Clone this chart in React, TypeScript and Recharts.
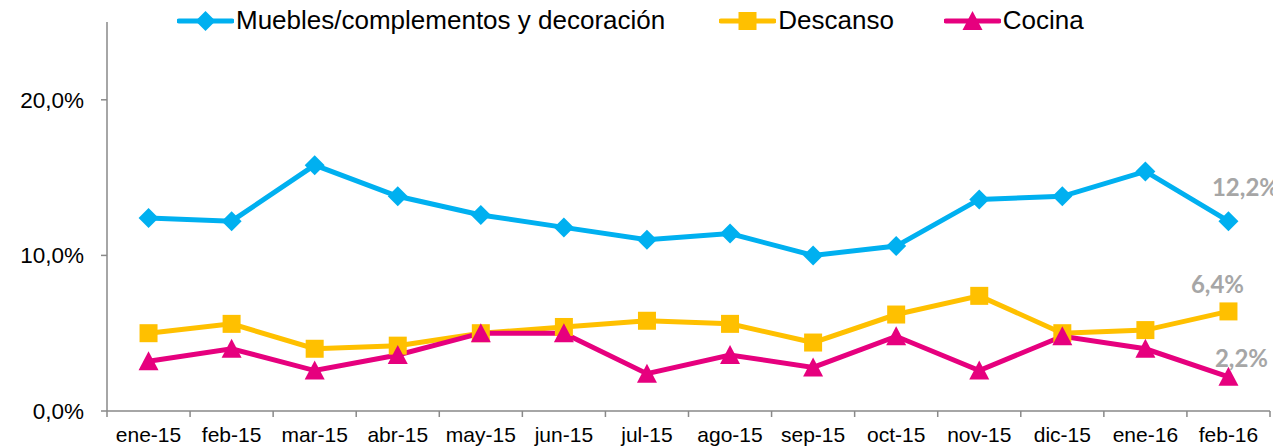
import React from 'react'
import { LineChart, Line, XAxis, YAxis, Legend, LabelList } from 'recharts'

const months = ['ene-15', 'feb-15', 'mar-15', 'abr-15', 'may-15', 'jun-15', 'jul-15', 'ago-15', 'sep-15', 'oct-15', 'nov-15', 'dic-15', 'ene-16', 'feb-16']
const muebles = [12.4, 12.2, 15.8, 13.8, 12.6, 11.8, 11.0, 11.4, 10.0, 10.6, 13.6, 13.8, 15.4, 12.2]
const descanso = [5.0, 5.6, 4.0, 4.2, 5.0, 5.4, 5.8, 5.6, 4.4, 6.2, 7.4, 5.0, 5.2, 6.4]
const cocina = [3.2, 4.0, 2.6, 3.6, 5.0, 5.0, 2.4, 3.6, 2.8, 4.8, 2.6, 4.8, 4.0, 2.2]
const yTicks = [0, 10, 20]

const data = months.map((month, i) => ({
  month,
  muebles: muebles[i],
  descanso: descanso[i],
  cocina: cocina[i],
}))

const series = [
  { key: 'muebles', name: 'Muebles/complementos y decoración', color: '#00B0F0', shape: 'diamond', dx: 17, dy: -35 },
  { key: 'descanso', name: 'Descanso', color: '#FFC000', shape: 'square', dx: -11, dy: -28 },
  { key: 'cocina', name: 'Cocina', color: '#E6007E', shape: 'triangle', dx: 13, dy: -19 },
]

const AXIS = '#898989'
const FONT = '"Liberation Sans", Arial, sans-serif'
const X_TICK = 6
const X_MARGIN = 10

const pct = (v: number) => v.toFixed(1).replace('.', ',') + '%'

const Marker = ({ cx, cy, shape, color }: any) => {
  if (cx == null || cy == null) return null
  if (shape === 'diamond') {
    return <polygon points={`${cx},${cy - 10} ${cx + 10},${cy} ${cx},${cy + 10} ${cx - 10},${cy}`} fill={color} />
  }
  if (shape === 'square') {
    return <rect x={cx - 9} y={cy - 9} width={18} height={18} fill={color} />
  }
  return <polygon points={`${cx},${cy - 10} ${cx + 10},${cy + 9} ${cx - 10},${cy + 9}`} fill={color} />
}

// category label plus tick marks on the category edges (Excel style)
const MonthTick = (props: any) => {
  const { x, y, payload, index } = props
  const half = payload.offset || 0
  const axisY = y - X_TICK - X_MARGIN
  return (
    <g>
      <line x1={x - half} x2={x - half} y1={axisY} y2={axisY + X_TICK} stroke={AXIS} strokeWidth={1.5} />
      {index === months.length - 1 && (
        <line x1={x + half} x2={x + half} y1={axisY} y2={axisY + X_TICK} stroke={AXIS} strokeWidth={1.5} />
      )}
      <text x={x} y={y} dy="0.71em" textAnchor="middle" fill="#000" fontSize={21} fontFamily={FONT}>
        {payload.value}
      </text>
    </g>
  )
}

const LegendContent = () => (
  <div style={{ display: 'flex', alignItems: 'center', fontFamily: FONT, fontSize: 26, color: '#000', whiteSpace: 'nowrap' }}>
    {series.map((s, i) => (
      <div key={s.key} style={{ display: 'flex', alignItems: 'center', marginLeft: i === 0 ? 0 : i === 1 ? 54 : 50 }}>
        <svg width={57} height={22} style={{ marginRight: 2 }}>
          <line x1={2} y1={11} x2={55} y2={11} stroke={s.color} strokeWidth={5} strokeLinecap="round" />
          <Marker cx={28.5} cy={11} shape={s.shape} color={s.color} />
        </svg>
        <span>{s.name}</span>
      </div>
    ))}
  </div>
)

const lastLabel = (dx: number, dy: number) => (props: any) => {
  const { x, y, index, value } = props
  if (index !== months.length - 1) return null
  return (
    <text x={x + dx} y={y + dy} textAnchor="middle" dominantBaseline="central" fill="#A6A6A6" fontFamily="Lato, sans-serif" fontWeight="bold" fontSize={24}>
      {pct(value)}
    </text>
  )
}

export default function App() {
  return (
    <LineChart width={1273} height={439} data={data} margin={{ top: 14, right: 11, bottom: 6, left: 9 }}>
      <XAxis
        dataKey="month"
        scale="band"
        height={30}
        axisLine={{ stroke: AXIS, strokeWidth: 1.5 }}
        tickLine={false}
        tickSize={X_TICK}
        tickMargin={X_MARGIN}
        interval={0}
        tick={<MonthTick />}
      />
      <YAxis
        domain={[0, 25]}
        ticks={yTicks}
        width={90}
        axisLine={{ stroke: AXIS, strokeWidth: 1.5 }}
        tickLine={{ stroke: AXIS, strokeWidth: 1.5 }}
        tickSize={6}
        tickMargin={17}
        tickFormatter={pct}
        tick={{ fill: '#000', fontSize: 22.5, fontFamily: FONT }}
      />
      <Legend
        layout="horizontal"
        verticalAlign="middle"
        align="center"
        content={<LegendContent />}
        wrapperStyle={{ top: -3, left: 169, width: 'auto' }}
      />
      {series.map((s) => (
        <Line
          key={s.key}
          dataKey={s.key}
          name={s.name}
          stroke={s.color}
          strokeWidth={5}
          isAnimationActive={false}
          dot={(p: any) => <Marker key={`${s.key}-${p.index}`} cx={p.cx} cy={p.cy} shape={s.shape} color={s.color} />}
          activeDot={false}
        >
          <LabelList dataKey={s.key} content={lastLabel(s.dx, s.dy)} />
        </Line>
      ))}
    </LineChart>
  )
}
